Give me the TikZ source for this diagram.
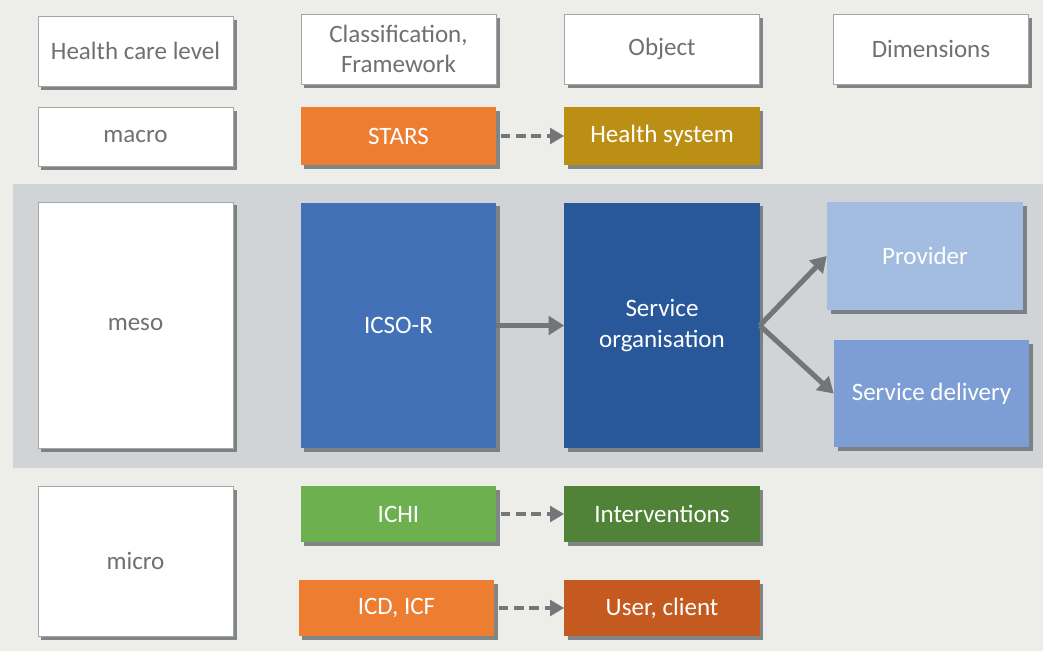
\documentclass[tikz,border=0pt]{standalone}
\usepackage{fontspec}
\setmainfont{Carlito}
\usepackage{xcolor}
\usepackage{tikz}
\usetikzlibrary{positioning,arrows.meta,shadows}

\definecolor{bgcol}{RGB}{237,237,234}
\definecolor{bandcol}{RGB}{208,212,214}
\definecolor{txtgray}{RGB}{112,112,112}
\definecolor{framegray}{RGB}{165,165,165}
\definecolor{shadowcol}{RGB}{110,115,118}
\definecolor{arrowgray}{RGB}{115,117,120}
\definecolor{starsorange}{RGB}{237,125,49}
\definecolor{hsysgold}{RGB}{187,142,20}
\definecolor{icsoblue}{RGB}{66,113,183}
\definecolor{sorgblue}{RGB}{40,88,154}
\definecolor{provblue}{RGB}{163,189,224}
\definecolor{sdelblue}{RGB}{124,158,213}
\definecolor{ichigreen}{RGB}{108,176,80}
\definecolor{intgreen}{RGB}{80,130,56}
\definecolor{userorange}{RGB}{196,90,32}

\begin{document}
\begin{tikzpicture}[x=0.025cm, y=-0.025cm,
    box/.style={rectangle, minimum width=4.875cm, inner sep=0pt, align=center,
        font=\fontsize{17.8}{21.5}\selectfont,
        drop shadow={shadow xshift=2.5pt, shadow yshift=-2.5pt, fill=shadowcol, opacity=0.85}},
    whitebox/.style={box, fill=white, draw=framegray, line width=0.6pt, text=txtgray},
    colbox/.style={box, text=white},
    conn/.style={draw=arrowgray, line width=3.6pt, -{Triangle[length=11pt,width=13pt]}},
    dashconn/.style={conn, line width=3.2pt, dash pattern=on 7pt off 4pt, shorten <=3pt,
        -{Triangle[length=10pt,width=11pt]}}
]
    % Background and meso band
    \fill[bgcol] (0,0) rectangle (1043,651);
    \useasboundingbox (0,0) rectangle (1043,651);
    \fill[bandcol] (13,184) rectangle (1043,468);

    % Header row
    \node[whitebox, minimum height=1.75cm] (hcl) at (135.5,51) {Health care level};
    \node[whitebox, minimum height=1.75cm] (classif) at (398.5,49) {Classification,\\Framework};
    \node[whitebox, minimum height=1.75cm] (object) at (662,49) {Object};
    \node[whitebox, minimum height=1.75cm] (dims) at (931,49) {Dimensions};

    % Macro level
    \node[whitebox, minimum height=1.475cm] (macro) at (135.5,136.5) {macro};
    \node[colbox, fill=starsorange, minimum height=1.45cm] (stars) at (398.5,136) {STARS};
    \node[colbox, fill=hsysgold, minimum height=1.45cm] (hsys) at (662,136) {Health system};

    % Meso level
    \node[whitebox, minimum height=6.15cm] (meso) at (135.5,325) {meso};
    \node[colbox, fill=icsoblue, minimum height=6.125cm] (icso) at (398.5,325.5) {ICSO-R};
    \node[colbox, fill=sorgblue, minimum height=6.125cm] (sorg) at (662,325.5) {Service\\organisation};
    \node[colbox, fill=provblue, minimum width=4.9cm, minimum height=2.7cm] (prov) at (925,256) {Provider};
    \node[colbox, fill=sdelblue, minimum height=2.675cm] (sdel) at (931.5,393.5) {Service delivery};

    % Micro level
    \node[whitebox, minimum height=3.75cm] (micro) at (135.5,561) {micro};
    \node[colbox, fill=ichigreen, minimum height=1.4cm] (ichi) at (398.5,514) {ICHI};
    \node[colbox, fill=intgreen, minimum height=1.4cm] (interv) at (662,514) {Interventions};
    \node[colbox, fill=starsorange, minimum height=1.4cm] (icd) at (396.5,608) {ICD, ICF};
    \node[colbox, fill=userorange, minimum height=1.4cm] (user) at (662,608) {User, client};

    % Connectors
    \draw[dashconn] (stars) -- (hsys);
    \draw[dashconn] (ichi) -- (interv);
    \draw[dashconn] (icd) -- (user);
    \draw[conn] (icso) -- (sorg);
    \draw[conn] (sorg.east) -- (prov.west);
    \draw[conn] (sorg.east) -- (sdel.west);
\end{tikzpicture}
\end{document}
